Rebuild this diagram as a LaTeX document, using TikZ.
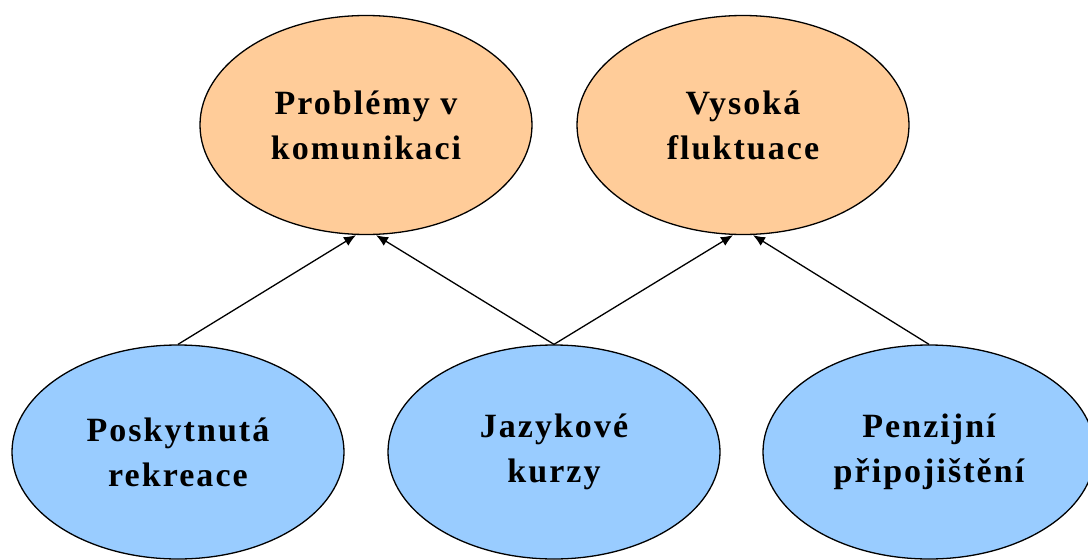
\documentclass[tikz,border=0pt]{standalone}
\usepackage{fontspec}
\setmainfont{Liberation Serif}
\usepackage{tikz}
\usetikzlibrary{shapes.geometric,arrows.meta}

\definecolor{problem}{HTML}{FFCC99}
\definecolor{measure}{HTML}{99CCFF}

\begin{document}
\begin{tikzpicture}[x=1pt,y=-1pt,
    goal/.style={ellipse, draw, line width=1.3pt, fill=problem, inner sep=0pt,
      minimum width=332pt, minimum height=219pt, align=center,
      font=\fontsize{34}{45}\selectfont\bfseries\addfontfeatures{LetterSpace=6}},
    cause/.style={goal, fill=measure, minimum height=214pt},
    link/.style={line width=1.3pt, -{Latex[length=12pt,width=10pt]}}]
        \useasboundingbox (0,0) rectangle (1088,560);

        % Define the problems (top row)
        \node[goal] (P) at (366,125) {Problémy v\\komunikaci};
        \node[goal] (F) at (743,125) {Vysoká\\fluktuace};

        % Define the measures (bottom row)
        \node[cause] (R) at (178,452) {Poskytnutá\\rekreace};
        \node[cause] (J) at (554,452) {Jazykové\\kurzy};
        \node[cause] (N) at (929,452) {Penzijní\\připojištění};

        % Define the edges (directed)
        \draw[link] (R.north) -- ([xshift=-10pt]P.south);
        \draw[link] (J.north) -- ([xshift=10pt]P.south);
        \draw[link] (J.north) -- ([xshift=-10pt]F.south);
        \draw[link] (N.north) -- ([xshift=10pt]F.south);

    \end{tikzpicture}
\end{document}
